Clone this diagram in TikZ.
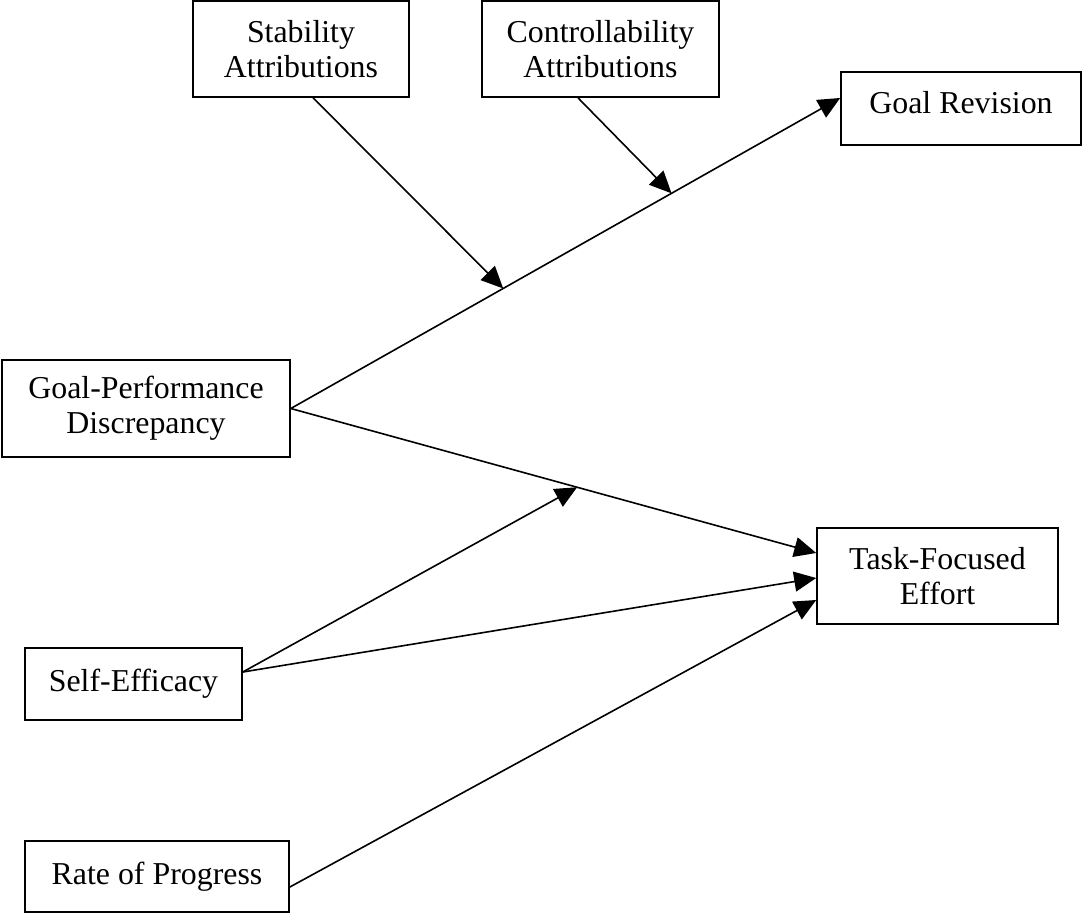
\documentclass[tikz,border=0pt]{standalone}
\usepackage{fontspec}
\setmainfont{Liberation Serif}
\usetikzlibrary{arrows.meta,calc}
\begin{document}
\begin{tikzpicture}[x=0.75pt,y=-0.75pt,
  box/.style={draw, line width=1.2pt, rectangle, inner sep=0pt, align=center,
    font=\fontsize{23.9}{26.3}\selectfont},
  conn/.style={line width=1.2pt, -{Triangle[length=16.5pt,width=15pt]}}]
\useasboundingbox (0,0) rectangle (1082,915);
\node[box, minimum width=162pt, minimum height=72pt] (stab) at (301,49) {Stability\\Attributions};
\node[box, minimum width=177.75pt, minimum height=72pt] (ctrl) at (600.5,49) {Controllability\\Attributions};
\node[box, minimum width=180pt, minimum height=54.75pt, text height=16pt, text depth=9pt] (gr) at (961,108.5) {Goal Revision};
\node[box, minimum width=216pt, minimum height=72.75pt] (gpd) at (146,408.5) {Goal-Performance\\Discrepancy};
\node[box, minimum width=180.75pt, minimum height=72pt] (tfe) at (937.5,576) {Task-Focused\\Effort};
\node[box, minimum width=162.75pt, minimum height=54pt] (se) at (133.5,684) {Self-Efficacy};
\node[box, minimum width=198pt, minimum height=53.25pt] (rop) at (157,876.5) {Rate of Progress};

\coordinate (grIn) at ([yshift=7.9pt]gr.west);
\coordinate (tfeA) at ([yshift=17.25pt]tfe.west);
\coordinate (tfeB) at ([yshift=-1.5pt]tfe.west);
\coordinate (tfeC) at ([yshift=-18pt]tfe.west);
\coordinate (seOut) at ([yshift=9pt]se.east);
\coordinate (ropOut) at ([yshift=-7.9pt]rop.east);
\coordinate (m1) at ($(gpd.east)!0.3866!(grIn)$);
\coordinate (m2) at ($(gpd.east)!0.693!(grIn)$);
\coordinate (m3) at ($(gpd.east)!0.545!(tfeA)$);

\draw[conn] (gpd.east) -- (grIn);
\draw[conn] (gpd.east) -- (tfeA);
\draw[conn] ([xshift=9pt]stab.south) -- (m1);
\draw[conn] ([xshift=-16.9pt]ctrl.south) -- (m2);
\draw[conn] (seOut) -- (m3);
\draw[conn] (seOut) -- (tfeB);
\draw[conn] (ropOut) -- (tfeC);
\end{tikzpicture}
\end{document}
